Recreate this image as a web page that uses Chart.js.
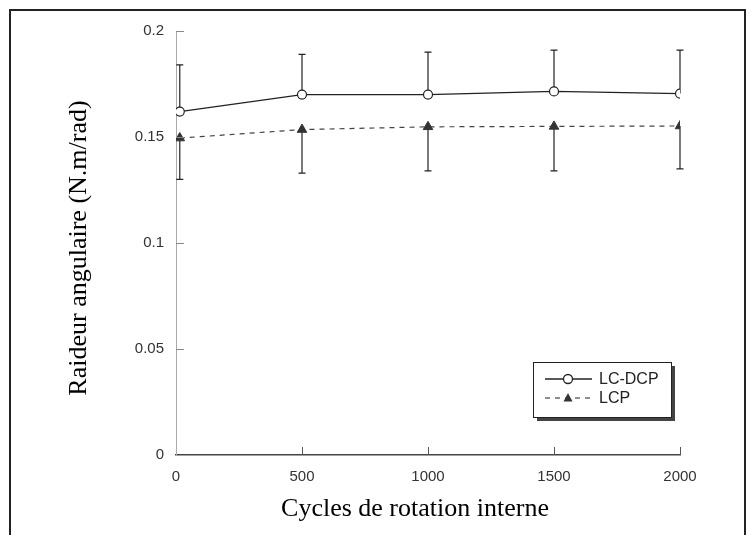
<!DOCTYPE html>
<html>
<head>
<meta charset="utf-8">
<script src="https://cdn.jsdelivr.net/npm/chart.js@4.4.1/dist/chart.umd.min.js"></script>
<style>
  html, body { margin: 0; padding: 0; background: #fff; }
  #wrap { width: 751px; height: 535px; }
</style>
</head>
<body>
<div id="wrap"><canvas id="chart" width="751" height="535"></canvas></div>
<script>
// data
const cycles = [15, 500, 1000, 1500, 2000];
const lcdcp = [0.162, 0.170, 0.170, 0.1715, 0.1705];
const lcdcpUpper = [0.184, 0.189, 0.190, 0.191, 0.191];
const lcp = [0.1495, 0.1535, 0.1548, 0.155, 0.1552];
const lcpLower = [0.130, 0.133, 0.134, 0.134, 0.135];
const xTicks = [0, 500, 1000, 1500, 2000];
const yTicks = [0, 0.05, 0.1, 0.15, 0.2];
const xTitle = 'Cycles de rotation interne';
const yTitle = 'Raideur angulaire (N.m/rad)';

const sans = "'Liberation Sans', Arial, sans-serif";
const serif = "'Liberation Serif', 'Times New Roman', serif";

function pts(xs, ys) {
  return xs.map((x, i) => ({ x: x, y: ys[i] }));
}

// error bars, inward ticks, titles, legend box and frame
const extras = {
  id: 'extras',
  beforeDatasetsDraw(chart) {
    const ctx = chart.ctx;
    const xs = chart.scales.x, ys = chart.scales.y;
    ctx.save();
    ctx.strokeStyle = '#222';
    ctx.lineWidth = 1.2;
    const bar = (x, y0, y1) => {
      const px = xs.getPixelForValue(x);
      const a = ys.getPixelForValue(y0), b = ys.getPixelForValue(y1);
      ctx.beginPath();
      ctx.moveTo(px, a); ctx.lineTo(px, b);
      ctx.moveTo(px - 3.5, b); ctx.lineTo(px + 3.5, b);
      ctx.stroke();
    };
    cycles.forEach((c, i) => {
      bar(c, lcdcp[i], lcdcpUpper[i]);
      bar(c, lcp[i], lcpLower[i]);
    });
    ctx.restore();
  },
  afterDraw(chart) {
    const ctx = chart.ctx;
    const xs = chart.scales.x, ys = chart.scales.y;
    const area = chart.chartArea;
    ctx.save();

    // inward tick marks
    ctx.strokeStyle = '#888';
    ctx.lineWidth = 1;
    yTicks.forEach(v => {
      if (v === 0) return;
      const py = Math.round(ys.getPixelForValue(v)) + 0.5;
      ctx.beginPath(); ctx.moveTo(area.left, py); ctx.lineTo(area.left + 8, py); ctx.stroke();
    });
    ctx.strokeStyle = '#555';
    xTicks.forEach(v => {
      if (v === 0) return;
      const px = Math.round(xs.getPixelForValue(v)) + 0.5;
      ctx.beginPath(); ctx.moveTo(px, area.bottom); ctx.lineTo(px, area.bottom - 8); ctx.stroke();
    });

    // axis titles
    ctx.fillStyle = '#000';
    ctx.font = '26px ' + serif;
    ctx.textAlign = 'center';
    ctx.textBaseline = 'alphabetic';
    ctx.fillText(xTitle, 415, 516);
    ctx.save();
    ctx.translate(86, 248);
    ctx.rotate(-Math.PI / 2);
    ctx.fillText(yTitle, 0, 0);
    ctx.restore();

    // legend box with drop shadow
    const lx = 533, ly = 362, lw = 138, lh = 55;
    ctx.fillStyle = '#444';
    ctx.fillRect(lx + 4, ly + 4, lw, lh);
    ctx.fillStyle = '#fff';
    ctx.fillRect(lx, ly, lw, lh);
    ctx.strokeStyle = '#222';
    ctx.lineWidth = 1;
    ctx.strokeRect(lx + 0.5, ly + 0.5, lw, lh);

    const dsets = chart.data.datasets;
    const rows = [379, 398];
    ctx.font = '16px ' + sans;
    ctx.textAlign = 'left';
    ctx.textBaseline = 'middle';
    dsets.forEach((ds, i) => {
      const y = rows[i];
      ctx.strokeStyle = ds.borderColor;
      ctx.lineWidth = ds.borderWidth;
      ctx.setLineDash(ds.borderDash || []);
      ctx.beginPath(); ctx.moveTo(545, y); ctx.lineTo(592, y); ctx.stroke();
      ctx.setLineDash([]);
      if (ds.pointStyle === 'circle') {
        ctx.fillStyle = '#fff';
        ctx.beginPath(); ctx.arc(568, y, 4.5, 0, Math.PI * 2); ctx.fill(); ctx.stroke();
      } else {
        ctx.fillStyle = ds.pointBackgroundColor;
        ctx.beginPath();
        ctx.moveTo(568, y - 5); ctx.lineTo(572.5, y + 3.5); ctx.lineTo(563.5, y + 3.5);
        ctx.closePath(); ctx.fill();
      }
      ctx.fillStyle = '#222';
      ctx.fillText(ds.label, 599, y + 1);
    });

    // outer frame
    ctx.strokeStyle = '#222';
    ctx.lineWidth = 2;
    ctx.beginPath();
    ctx.moveTo(10, 535); ctx.lineTo(10, 10); ctx.lineTo(745, 10); ctx.lineTo(745, 535);
    ctx.stroke();
    ctx.restore();
  }
};

const ctx = document.getElementById('chart').getContext('2d');
const myChart = new Chart(ctx, {
  type: 'line',
  data: {
    datasets: [{
      label: 'LC-DCP',
      data: pts(cycles, lcdcp),
      borderColor: '#222',
      borderWidth: 1.3,
      pointStyle: 'circle',
      pointRadius: 4.5,
      pointBackgroundColor: '#fff',
      pointBorderColor: '#222',
      pointBorderWidth: 1.2,
      tension: 0
    }, {
      label: 'LCP',
      data: pts(cycles, lcp),
      borderColor: '#444',
      borderWidth: 1.2,
      borderDash: [5, 5],
      pointStyle: 'triangle',
      pointRadius: 5.5,
      pointBackgroundColor: '#333',
      pointBorderColor: '#333',
      pointBorderWidth: 1,
      tension: 0
    }]
  },
  options: {
    responsive: false,
    animation: false,
    devicePixelRatio: 1,
    layout: { padding: { left: 0, top: 31, right: 71, bottom: 0 } },
    plugins: { legend: { display: false }, tooltip: { enabled: false } },
    scales: {
      x: {
        type: 'linear',
        min: 0, max: 2000,
        afterBuildTicks: s => { s.ticks = xTicks.map(v => ({ value: v })); },
        afterFit: s => { s.height = 80; },
        grid: { display: true, drawOnChartArea: false, drawTicks: false },
        border: { display: true, color: '#444', width: 1.5 },
        ticks: {
          padding: 13, color: '#333', font: { family: sans, size: 15 }, maxRotation: 0,
          callback: v => String(v)
        }
      },
      y: {
        min: 0, max: 0.2,
        afterBuildTicks: s => { s.ticks = yTicks.map(v => ({ value: v })); },
        afterFit: s => { s.width = 176; },
        grid: { display: true, drawOnChartArea: false, drawTicks: false },
        border: { display: true, color: '#aaa', width: 1 },
        ticks: {
          padding: 12, color: '#333', font: { family: sans, size: 15 },
          callback: v => String(+v.toFixed(2))
        }
      }
    }
  },
  plugins: [extras]
});
</script>
</body>
</html>
